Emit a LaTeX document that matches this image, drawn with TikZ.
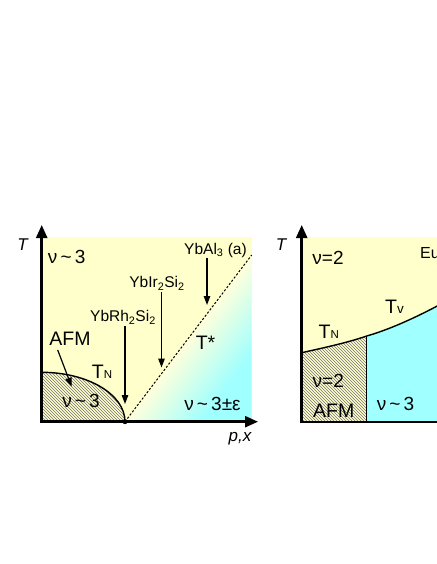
\documentclass[tikz,border=0pt]{standalone}
\usepackage{fontspec}
\setmainfont{Liberation Sans}
\usetikzlibrary{arrows.meta,patterns}
\definecolor{yel}{RGB}{255,255,204}
\definecolor{cy}{RGB}{160,255,255}
\tikzset{
  axisline/.style={line width=2.5pt},
  axisarrow/.style={line width=2.5pt, -{Triangle[length=13pt,width=11pt]}},
  ptr/.style={line width=1.2pt, -{Triangle[length=9pt,width=6.5pt]}},
  big/.style={font=\fontsize{19.5}{19.5}\selectfont, inner sep=0pt, anchor=base},
  nul/.style={font=\fontsize{19}{19}\selectfont, inner sep=0pt, anchor=base},
  mid/.style={font=\fontsize{16}{16}\selectfont, inner sep=0pt, anchor=base},
  cmp/.style={font=\fontsize{15.5}{15.5}\selectfont, inner sep=0pt, anchor=base},
  axlab/.style={font=\fontsize{17}{17}\selectfont\itshape, inner sep=0pt, anchor=base},
  hatch/.style={pattern=north west lines, pattern color=black!55},
  bound/.style={line width=1.4pt},
}
\newcommand{\smallsub}[1]{{\fontsize{11.5}{11.5}\selectfont\raisebox{-0.5pt}{#1}}}
\begin{document}
\begin{tikzpicture}[x=1pt,y=-1pt]
\useasboundingbox (0,0) rectangle (436,564);
% ---------- left panel ----------
\coordinate (O) at (41.7,421.7);
\coordinate (Ytop) at (41.7,225);
\coordinate (Xend) at (258,421.7);
\coordinate (Q) at (125,421.7);
\coordinate (Dtop) at (251.7,255);
\coordinate (Dome) at (41.7,372.3);
\fill[yel] (41.7,236.7) rectangle (251.7,421.7);
\begin{scope}
  \clip (Q) -- (Dtop) -- (251.7,421.7) -- cycle;
  \begin{scope}[transform canvas={shift={(125,421.7)}, rotate=-37.2}]
    \shade[left color=yel!70!white, right color=cy] (0,-300) rectangle (60,300);
    \fill[cy] (59.5,-300) rectangle (250,300);
  \end{scope}
\end{scope}
\path[hatch] (O) -- (Dome) .. controls (87.7,372.3) and (125,394.4) .. (Q) -- cycle;
\draw[bound] (Dome) .. controls (87.7,372.3) and (125,394.4) .. (Q);
\draw[line width=1pt, dash pattern=on 2.2pt off 1.8pt] (Q) -- (Dtop);
\draw[axisarrow] (41.7,422.95) -- (Ytop);
\draw[axisarrow] (40.45,421.7) -- (Xend);
\fill (Q) circle (2.5pt);
% labels
\node[axlab] (T1) at (22.5,250) {T};
\node[nul] (nu1) at (66.7,263) {ν\,\textasciitilde\,3};
\node[cmp] (yal) at (215.5,254) {YbAl\textsubscript{3} (a)};
\node[cmp] (yir) at (157,287.7) {YbIr\textsubscript{2}Si\textsubscript{2}};
\node[cmp] (yrh) at (123,321.7) {YbRh\textsubscript{2}Si\textsubscript{2}};
\coordinate (a1s) at (207,257.5);
\coordinate (a1e) at (207,305);
\coordinate (a2s) at (161.5,292);
\coordinate (a2e) at (161.5,367.5);
\coordinate (a3s) at (125,326);
\coordinate (a3e) at (125,404);
\draw[ptr] (a1s) -- (a1e);
\draw[ptr] (a2s) -- (a2e);
\draw[ptr] (a3s) -- (a3e);
\node[big] (ts) at (205.5,349.3) {T*};
\node[big] (afm1) at (70,345) {AFM};
\coordinate (afs) at (57.7,350);
\coordinate (afe) at (71.7,386.7);
\draw[ptr] (afs) -- (afe);
\node[big] (tn1) at (102,378.3) {T\smallsub{N}};
\node[nul] (nu2) at (81,407.3) {ν\,\textasciitilde\,3};
\node[nul] (nu3) at (212.5,410.5) {ν\,\textasciitilde\,3±ε};
\node[axlab] (px) at (240,441) {p,x};
% ---------- right panel ----------
\coordinate (O2) at (301.7,422);
\coordinate (Y2top) at (301.7,225);
\coordinate (X2end) at (445,422);
\coordinate (C0) at (301.7,352.7);
\coordinate (K) at (366.7,336);
\coordinate (C2) at (440,304.5);
\fill[yel] (301.7,236.7) rectangle (445,422);
\fill[cy] (K) .. controls (388,330) and (415,318) .. (C2) -- (445,304.5) -- (445,422) -- (366.7,422) -- cycle;
\path[hatch] (C0) .. controls (325,347.5) and (348,342.5) .. (K) -- (366.7,422) -- (O2) -- cycle;
\draw[bound] (C0) .. controls (325,347.5) and (348,342.5) .. (K) .. controls (388,330) and (415,318) .. (C2);
\draw[line width=0.9pt] (K) -- (366.7,422);
\draw[axisarrow] (301.7,423.25) -- (Y2top);
\draw[axisline] (300.45,422) -- (X2end);
\node[axlab] (T2) at (281,250) {T};
\node[nul] (nu4) at (328,264) {ν=2};
\node[mid, anchor=base west] (eu) at (420,258.7) {Eu};
\node[big] (tn2) at (328.7,338.3) {T\smallsub{N}};
\node[big] (tv) at (394.5,313.5) {T{\fontsize{13.5}{13.5}\selectfont v}};
\node[nul] (nu5) at (328.3,387.3) {ν=2};
\node[big] (afm2) at (333.8,417.3) {AFM};
\node[nul] (nu6) at (395.5,410) {ν\,\textasciitilde\,3};
\end{tikzpicture}
\end{document}
